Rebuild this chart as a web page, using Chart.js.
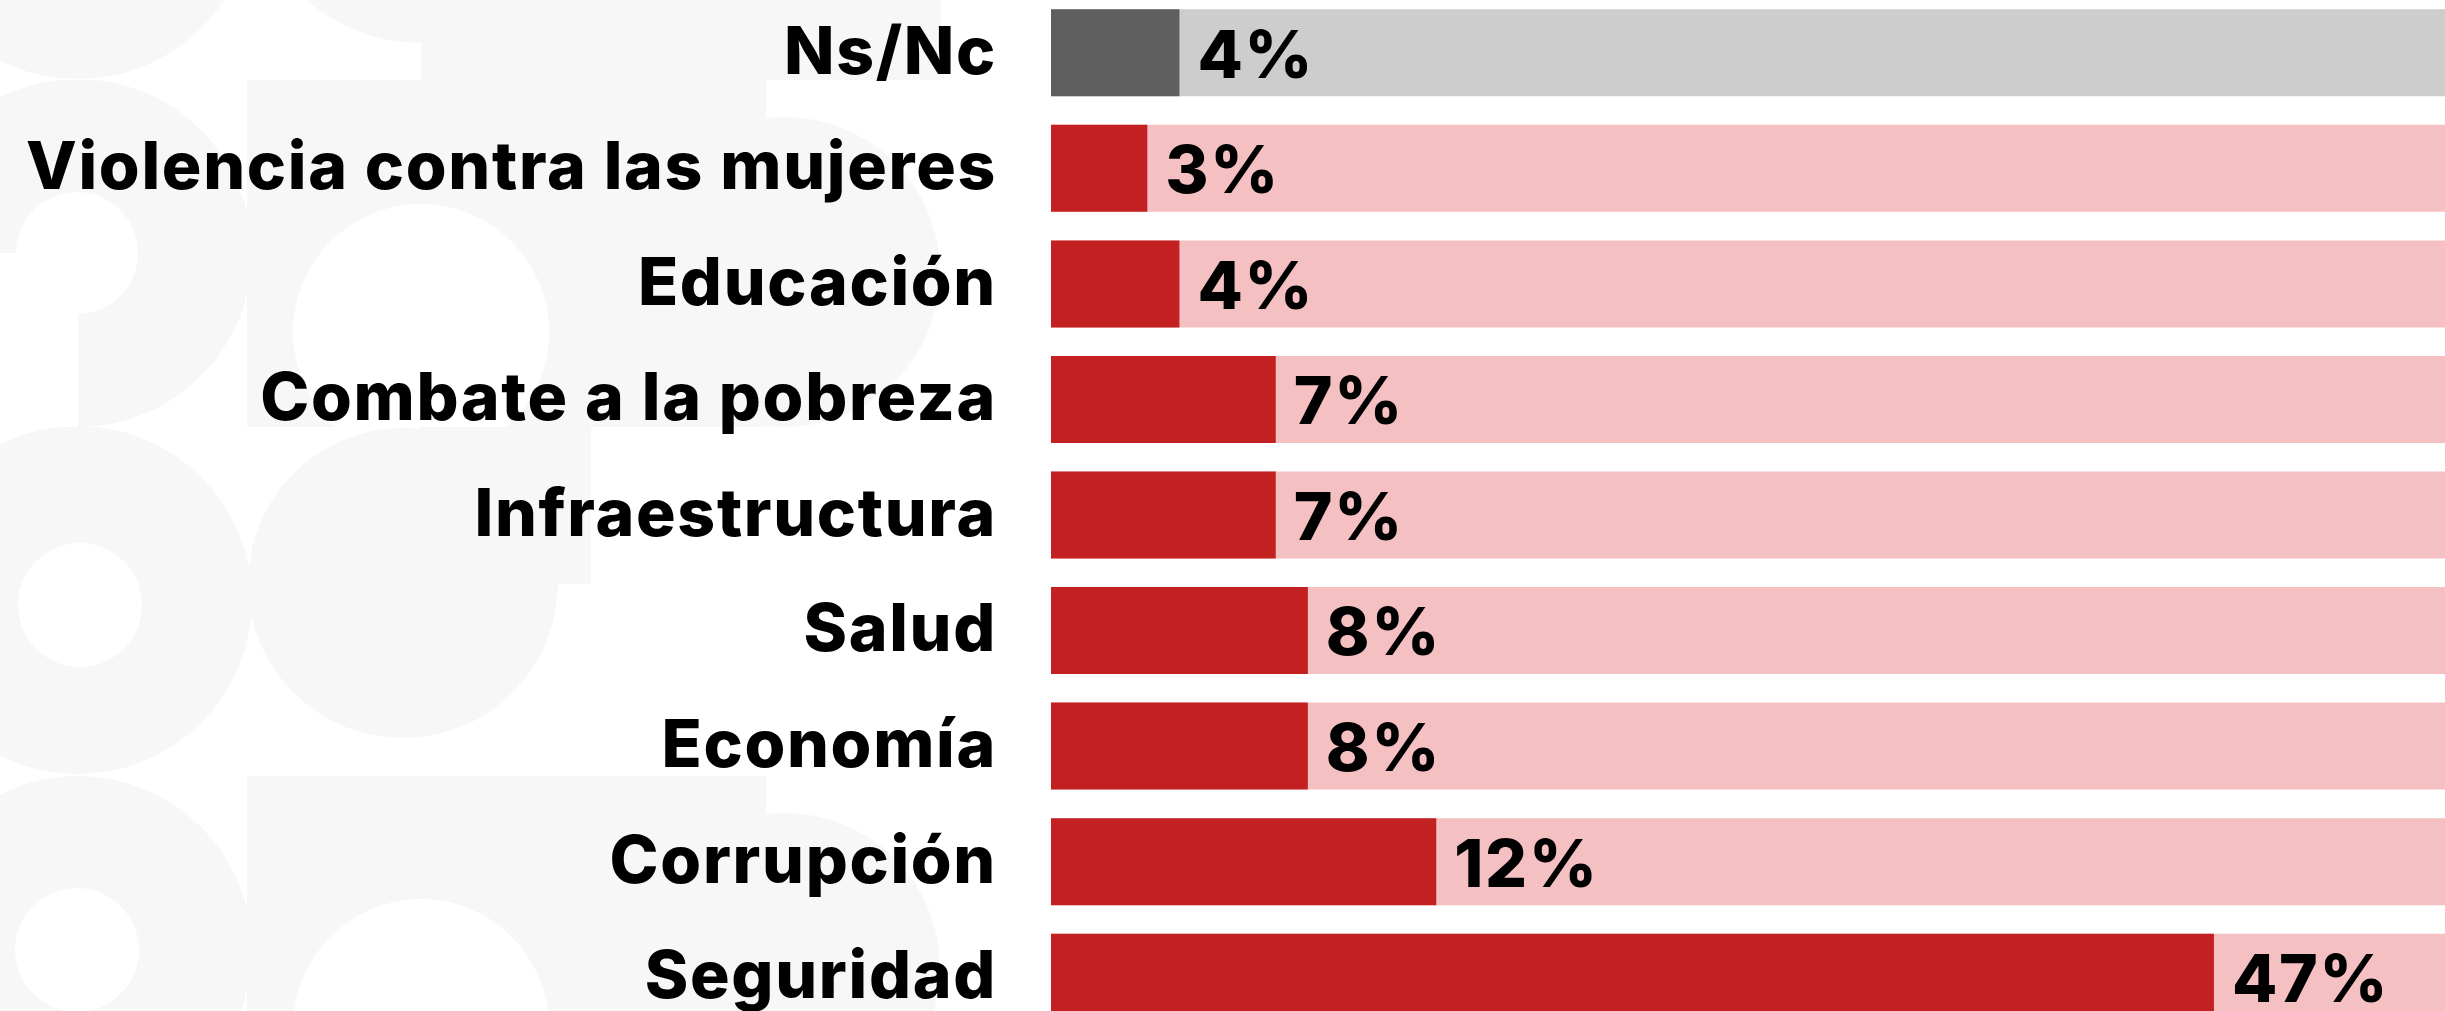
<!DOCTYPE html>
<html>
<head>
<meta charset="utf-8">
<script src="https://cdn.jsdelivr.net/npm/chart.js@4.4.1/dist/chart.umd.min.js"></script>
<style>
  html, body { margin: 0; padding: 0; background: #ffffff; overflow: hidden; }
  body { width: 2445px; height: 1011px; position: relative; }
  #wrap { position: absolute; left: 0; top: -5px; width: 2445px; height: 1040px; }
</style>
</head>
<body>
<div id="wrap"><canvas id="chart"></canvas></div>
<script>
// temas (de arriba hacia abajo) y porcentajes
const categories = [
  "Ns/Nc",
  "Violencia contra las mujeres",
  "Educación",
  "Combate a la pobreza",
  "Infraestructura",
  "Salud",
  "Economía",
  "Corrupción",
  "Seguridad",
];
const values = [4, 3, 4, 7, 7, 8, 8, 12, 47];

// el eje está cortado: por encima de 12% la escala se comprime
const BREAK_AT = 12;
const SQUEEZE = 0.692;
const AXIS_MAX = 57.4;
const track = categories.map(() => AXIS_MAX);

const FONT = { family: "Inter, 'Noto Sans', sans-serif", size: 66, weight: "800" };
const SPACING = "1.7px";

// fondo decorativo (gris muy claro), sólo detrás de las etiquetas
const G = "#f7f7f7", W = "#ffffff";
const bgBands = [
  { y0: -300, y1: 80, shapes: [["c", 78, -96, 175, G], ["c", 421, -131, 174, G], ["r", 421, 0, 520, 80, G]] },
  { y0: 80, y1: 427, shapes: [["c", 78, 253, 174, G], ["c", 77, 253, 61, W], ["r", 0, 253, 78, 174, W],
                               ["r", 247, 80, 519, 347, G], ["c", 421, 332, 128, W], ["c", 785, 272, 155, G]] },
  { y0: 427, y1: 774, shapes: [["c", 78, 600, 174, G], ["c", 80, 605, 62, W],
                                ["c", 403, 583, 155, G], ["r", 421, 427, 170, 157, G]] },
  { y0: 774, y1: 1100, shapes: [["c", 78, 950, 174, G], ["c", 77, 950, 62, W], ["r", 247, 776, 519, 330, G],
                                 ["c", 421, 1027, 128, W], ["c", 785, 968, 155, G]] },
];

class BrokenScale extends Chart.LinearScale {
  squeeze(v) {
    return v <= BREAK_AT ? v : BREAK_AT + (v - BREAK_AT) * SQUEEZE;
  }
  getPixelForValue(value) {
    const lo = this.squeeze(this.min);
    const hi = this.squeeze(this.max);
    return this.getPixelForDecimal((this.squeeze(value) - lo) / (hi - lo));
  }
  getValueForPixel(pixel) {
    const lo = this.squeeze(this.min);
    const hi = this.squeeze(this.max);
    const t = lo + this.getDecimalForPixel(pixel) * (hi - lo);
    return t <= BREAK_AT ? t : BREAK_AT + (t - BREAK_AT) / SQUEEZE;
  }
}
BrokenScale.id = "broken";
BrokenScale.defaults = Chart.LinearScale.defaults;
Chart.register(BrokenScale);

const background = {
  id: "background",
  beforeDraw(chart) {
    const ctx = chart.ctx;
    const top = chart.canvas.parentNode.offsetTop; // -5
    ctx.save();
    ctx.fillStyle = W;
    ctx.fillRect(0, 0, chart.width, chart.height);
    ctx.translate(0, -top);
    bgBands.forEach((band) => {
      ctx.save();
      ctx.beginPath();
      ctx.rect(0, band.y0, 1051, band.y1 - band.y0);
      ctx.clip();
      band.shapes.forEach(([kind, x, y, a, b, col]) => {
        ctx.fillStyle = kind === "c" ? b : col;
        ctx.beginPath();
        if (kind === "c") ctx.arc(x, y, a, 0, Math.PI * 2);
        else ctx.rect(x, y, a, b);
        ctx.fill();
      });
      ctx.restore();
    });
    ctx.restore();
    ctx.letterSpacing = SPACING;
  },
};

// etiquetas de porcentaje al final de cada barra
const valueLabels = {
  id: "valueLabels",
  afterDatasetsDraw(chart) {
    const ctx = chart.ctx;
    const meta = chart.getDatasetMeta(0);
    ctx.save();
    ctx.letterSpacing = SPACING;
    ctx.font = `${FONT.weight} ${FONT.size}px ${FONT.family}`;
    ctx.fillStyle = "#000000";
    ctx.textAlign = "left";
    ctx.textBaseline = "middle";
    meta.data.forEach((bar, i) => {
      ctx.fillText(values[i] + "%", bar.x + 18, bar.y + 5);
    });
    ctx.restore();
  },
};

const canvas = document.getElementById("chart");
canvas.getContext("2d").letterSpacing = SPACING;

new Chart(canvas, {
  type: "bar",
  data: {
    labels: categories,
    datasets: [
      {
        data: values,
        backgroundColor: categories.map((c, i) => (i === 0 ? "#5f5f5f" : "#c32022")),
        borderWidth: 0,
        categoryPercentage: 1,
        barPercentage: 0.753,
        order: 1,
      },
      {
        data: track,
        backgroundColor: categories.map((c, i) =>
          i === 0 ? "rgba(60,60,60,0.26)" : "rgba(236,130,133,0.5)"
        ),
        borderWidth: 0,
        categoryPercentage: 1,
        barPercentage: 0.753,
        order: 2,
      },
    ],
  },
  options: {
    indexAxis: "y",
    responsive: true,
    maintainAspectRatio: false,
    animation: false,
    layout: { padding: 0 },
    plugins: { legend: { display: false }, tooltip: { enabled: false } },
    scales: {
      x: {
        type: "broken",
        min: 0,
        max: AXIS_MAX,
        display: false,
      },
      y: {
        grid: { display: false, drawTicks: false },
        border: { display: false },
        ticks: {
          color: "#000000",
          font: FONT,
          padding: 54,
          labelOffset: 1,
        },
        afterFit(scale) {
          scale.width = 1051;
          scale.paddingTop = 0;
          scale.paddingBottom = 0;
        },
      },
    },
    datasets: { bar: { grouped: false } },
  },
  plugins: [background, valueLabels],
});
</script>
</body>
</html>
